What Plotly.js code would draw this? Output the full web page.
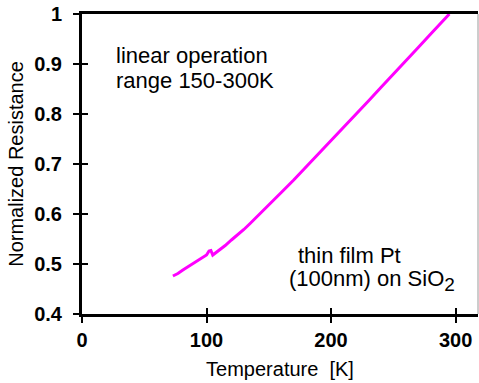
<!DOCTYPE html>
<html>
<head>
<meta charset="utf-8">
<script src="https://cdn.plot.ly/plotly-3.0.1.min.js"></script>
<style>html,body{margin:0;padding:0;background:#fff;}#chart{width:479px;height:383px;}</style>
</head>
<body>
<div id="chart"></div>
<script>
// Data
const temperatureK = [73, 77, 81, 85, 89, 93, 97, 100, 102, 103.5, 105, 110, 115, 120, 125, 130, 135, 140, 150, 160, 170, 180, 190, 200, 210, 220, 230, 240, 250, 260, 270, 280, 290, 295];
const normResistance = [0.476, 0.481, 0.488, 0.494, 0.500, 0.506, 0.512, 0.518, 0.526, 0.527, 0.518, 0.527, 0.537, 0.548, 0.558, 0.569, 0.581, 0.593, 0.618, 0.643, 0.668, 0.694, 0.720, 0.746, 0.772, 0.799, 0.826, 0.853, 0.879, 0.906, 0.933, 0.960, 0.987, 1.0];
const xTickVals = [0, 100, 200, 300];
const xTickText = ['0', '100', '200', '300'];
const yTickVals = [0.4, 0.5, 0.6, 0.7, 0.8, 0.9, 1];
const yTickText = ['0.4', '0.5', '0.6', '0.7', '0.8', '0.9', '1'];

const FONT = '"Liberation Sans", Arial, Helvetica, sans-serif';

const traces = [
  {
    x: temperatureK, y: normResistance, type: 'scatter', mode: 'lines',
    line: {color: '#FF00FF', width: 3}, hoverinfo: 'skip', showlegend: false
  },
  {x: [], y: [], xaxis: 'x2', yaxis: 'y2', type: 'scatter', mode: 'lines', showlegend: false}
];

const tickFont = {family: FONT, size: 20, color: '#000', weight: 'bold'};
const annFont = {family: FONT, size: 22, color: '#000'};

const layout = {
  width: 479, height: 383,
  margin: {l: 82, r: 1, t: 14, b: 69},
  paper_bgcolor: '#fff', plot_bgcolor: '#fff',
  showlegend: false,
  font: {family: FONT, color: '#000'},
  xaxis: {
    range: [0, 318], tickvals: xTickVals, ticktext: xTickText,
    ticks: 'outside', ticklen: 6, tickwidth: 2, tickcolor: '#000',
    showline: true, linewidth: 3, linecolor: '#000', mirror: true,
    showgrid: false, zeroline: false, tickfont: tickFont,
    title: {text: 'Temperature  [K]', font: {family: FONT, size: 20, color: '#000'}, standoff: 12}
  },
  yaxis: {
    range: [0.4, 1], tickvals: yTickVals, ticktext: yTickText,
    ticks: 'outside', ticklen: 6, tickwidth: 2, tickcolor: '#000',
    showline: true, linewidth: 3, linecolor: '#000',
    showgrid: false, zeroline: false, tickfont: tickFont, ticklabelstandoff: 7,
    title: {text: 'Normalized Resistance', font: {family: FONT, size: 20, color: '#000'}, standoff: 6}
  },
  xaxis2: {
    overlaying: 'x', anchor: 'y2', range: [0, 318], tickvals: xTickVals,
    ticks: 'inside', ticklen: 6, tickwidth: 2, tickcolor: '#000',
    showticklabels: false, showline: false, showgrid: false, zeroline: false
  },
  yaxis2: {
    overlaying: 'y', anchor: 'x2', side: 'left', range: [0.4, 1], tickvals: yTickVals,
    ticks: 'inside', ticklen: 6, tickwidth: 2, tickcolor: '#000',
    showticklabels: false, showline: false, showgrid: false, zeroline: false
  },
  shapes: [
    {type: 'line', xref: 'paper', yref: 'paper', x0: 1, x1: 1, y0: 0, y1: 1,
     line: {color: '#9a9a9a', width: 1}}
  ],
  annotations: [
    {text: 'linear operation', xref: 'x', yref: 'y', x: 25.3, y: 0.9464,
     xanchor: 'left', yanchor: 'top', align: 'left', showarrow: false, font: annFont},
    {text: 'range 150-300K', xref: 'x', yref: 'y', x: 25.3, y: 0.8958,
     xanchor: 'left', yanchor: 'top', align: 'left', showarrow: false, font: annFont},
    {text: 'thin film Pt', xref: 'x', yref: 'y', x: 171.7, y: 0.5464,
     xanchor: 'left', yanchor: 'top', align: 'left', showarrow: false, font: annFont},
    {text: '(100nm) on SiO<sub><span style="font-size:19px">2</span></sub>', xref: 'x', yref: 'y', x: 165.0, y: 0.4998,
     xanchor: 'left', yanchor: 'top', align: 'left', showarrow: false, font: annFont}
  ]
};

Plotly.newPlot('chart', traces, layout, {staticPlot: true, displayModeBar: false});
</script>
</body>
</html>
